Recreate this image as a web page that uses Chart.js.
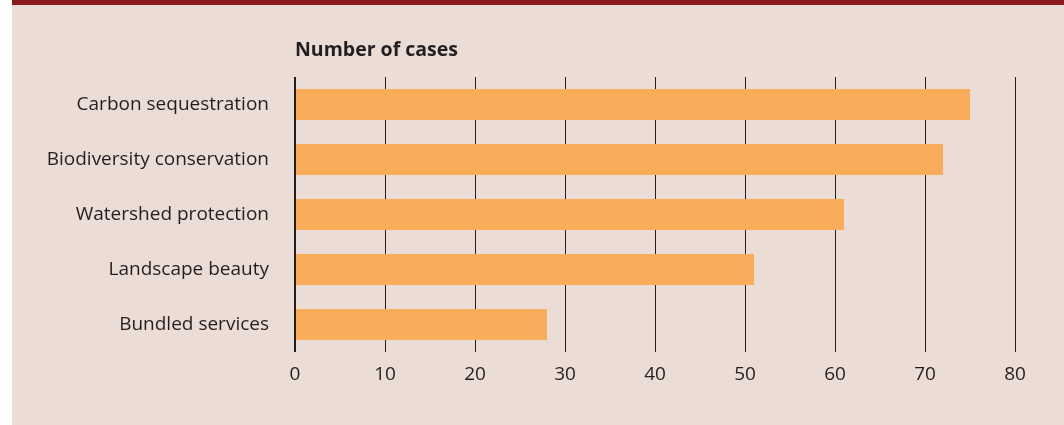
<!DOCTYPE html>
<html>
<head>
<meta charset="utf-8">
<script src="https://cdn.jsdelivr.net/npm/chart.js@4/dist/chart.umd.min.js"></script>
<style>
  html, body { margin: 0; padding: 0; background: #ffffff; }
  #wrap { width: 1064px; height: 425px; position: relative; }
</style>
</head>
<body>
<div id="wrap"><canvas id="cases"></canvas></div>
<script>
//--------------------------------------------Data
const categories = ['Carbon sequestration', 'Biodiversity conservation', 'Watershed protection', 'Landscape beauty', 'Bundled services'];
const caseCounts = [75, 72, 61, 51, 28];
const xTicks = [0, 10, 20, 30, 40, 50, 60, 70, 80];
const axisTitle = 'Number of cases';

//--------------------------------------------Plugins
const panelBackground = {
    id: 'panelBackground',
    beforeDraw(chart) {
        const { ctx, width, height } = chart;
        ctx.save();
        ctx.fillStyle = '#ffffff';
        ctx.fillRect(0, 0, width, height);
        ctx.fillStyle = '#ecdcd6';
        ctx.fillRect(12, 5, width - 12, height - 5);
        ctx.fillStyle = '#8b1a1e';
        ctx.fillRect(12, 0, width - 12, 5);
        ctx.restore();
    }
};

const topTitle = {
    id: 'topTitle',
    afterDraw(chart) {
        const { ctx, chartArea } = chart;
        ctx.save();
        ctx.fillStyle = '#231f20';
        ctx.font = 'bold 19.5px "Open Sans"';
        ctx.textAlign = 'left';
        ctx.textBaseline = 'alphabetic';
        ctx.fillText(axisTitle, chartArea.left, 56);
        ctx.restore();
    }
};

//--------------------------------------------Chart
const config = {
    type: 'bar',
    data: {
        labels: categories,
        datasets: [{
            label: axisTitle,
            data: caseCounts,
            backgroundColor: '#f9ad5a',
            borderWidth: 0,
            barPercentage: 0.564,
            categoryPercentage: 1
        }]
    },
    options: {
        indexAxis: 'y',
        responsive: false,
        animation: false,
        layout: {
            padding: { left: 0, right: 49, top: 77, bottom: 38 }
        },
        plugins: {
            legend: { display: false },
            title: { display: false },
            tooltip: { enabled: false }
        },
        scales: {
            x: {
                min: 0,
                max: 80,
                afterBuildTicks(scale) {
                    scale.ticks = xTicks.map(v => ({ value: v }));
                },
                afterFit(scale) { scale.height = 35; },
                border: { display: false },
                grid: {
                    color: '#231f20',
                    lineWidth: ctx => ctx.index === 0 ? 2 : 1,
                    drawTicks: false
                },
                ticks: {
                    color: '#231f20',
                    padding: 11,
                    font: { family: 'Open Sans', size: 19 }
                }
            },
            y: {
                afterFit(scale) { scale.width = 295; },
                border: { display: false },
                grid: { display: false, drawTicks: false },
                ticks: {
                    color: '#231f20',
                    padding: 26,
                    font: { family: 'Open Sans', size: 19 }
                }
            }
        }
    },
    plugins: [panelBackground, topTitle]
};

const canvas = document.getElementById('cases');
canvas.width = 1064;
canvas.height = 425;
new Chart(canvas, config);
</script>
</body>
</html>
